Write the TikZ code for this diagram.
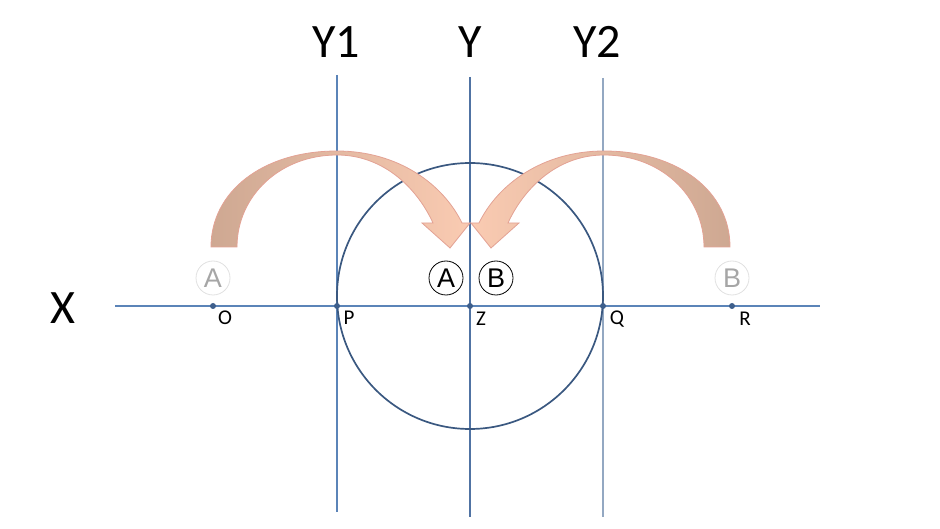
\documentclass[tikz,border=0pt]{standalone}
\usepackage{fontspec}
\setmainfont{Carlito}
\newfontfamily\ringfont{Liberation Sans}
\usetikzlibrary{positioning}
\definecolor{axisblue}{HTML}{5B84B8}
\definecolor{midblue}{HTML}{5073A3}
\definecolor{paleaxis}{HTML}{93A8C2}
\definecolor{ringblue}{HTML}{3A5880}
\definecolor{dotblue}{HTML}{3E5F8C}
\definecolor{arrowtan}{HTML}{CEA892}
\definecolor{arrowpeach}{HTML}{FACBB2}
\definecolor{arrowedge}{HTML}{E3A294}
\definecolor{fadegrey}{HTML}{A6A6A6}
\definecolor{fadering}{HTML}{E0E0E0}

\begin{document}
\begin{tikzpicture}[
  x=1pt, y=-1pt,
  axis/.style={line width=1.2pt},
  dot/.style={circle, fill=dotblue, inner sep=0pt, minimum size=6pt},
  big/.style={font=\fontsize{48}{48}\selectfont, anchor=base},
  ptlabel/.style={font=\fontsize{21}{21}\selectfont, anchor=base},
  ring/.style={circle, draw=black, line width=0.8pt, minimum size=34pt, inner sep=0pt, font=\ringfont\fontsize{27}{27}\selectfont},
  fadedring/.style={ring, draw=fadering, text=fadegrey},
  swoop/.style={draw=arrowedge, line width=0.8pt}
]
\useasboundingbox (0,0) rectangle (940,529);

% axis end points
\coordinate (xl) at (115,306);
\coordinate (xr) at (820,306);
\coordinate (y1t) at (337,75);
\coordinate (y1b) at (337,512);
\coordinate (yt) at (470,77);
\coordinate (yb) at (470,517);
\coordinate (y2t) at (603,78);
\coordinate (y2b) at (603,517);

\draw[axis, draw=axisblue] (xl) -- (xr);
\draw[axis, draw=axisblue] (y1t) -- (y1b);
\draw[axis, draw=midblue] (yt) -- (yb);
\draw[axis, draw=paleaxis] (y2t) -- (y2b);

% circle through P and Q
\draw[ringblue, line width=1.7pt] (470,296) circle (133);

% curved arrows
\path[swoop, left color=arrowtan, right color=arrowpeach]
  (211,247) .. controls (211,192) and (262,151) .. (337,151)
  .. controls (398,151) and (443,184) .. (462,223)
  -- (470,223) -- (450,248) -- (422,223) -- (433,223)
  .. controls (418,190) and (385,155) .. (337,155)
  .. controls (280,155) and (237,196) .. (237,247) -- cycle;
\path[swoop, left color=arrowpeach, right color=arrowtan]
  (730,247) .. controls (730,192) and (679,151) .. (604,151)
  .. controls (543,151) and (498,184) .. (479,223)
  -- (471,223) -- (491,248) -- (519,223) -- (508,223)
  .. controls (523,190) and (556,155) .. (604,155)
  .. controls (661,155) and (704,196) .. (704,247) -- cycle;

% points on X
\node[dot] (O) at (213,306) {};
\node[dot] (P) at (337,306) {};
\node[dot] (Z) at (470,306) {};
\node[dot] (Q) at (603,306) {};
\node[dot] (R) at (732,306) {};

\node[ptlabel] at (225,325) {O};
\node[ptlabel] at (349,325) {P};
\node[ptlabel] at (481,326) {Z};
\node[ptlabel] at (617,325) {Q};
\node[ptlabel] at (745,326) {R};

% circled letters
\node[fadedring] (fa) at (213,278) {A};
\node[fadedring] (fb) at (732,278) {B};
\node[ring] (ca) at (446,278) {A};
\node[ring] (cb) at (496,278) {B};

% axis names
\node[big] at (63,324) {X};
\node[big] at (336,58) {Y1};
\node[big] at (470,58) {Y};
\node[big] at (597,58) {Y2};
\end{tikzpicture}
\end{document}
